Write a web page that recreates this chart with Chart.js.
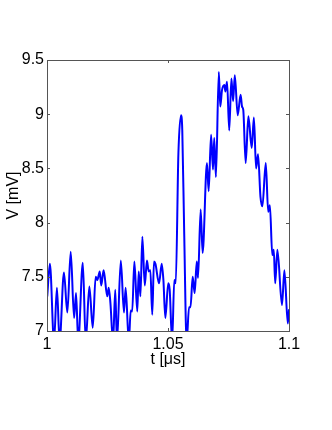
<!DOCTYPE html>
<html>
<head>
    <title>V vs t</title>
    <script src="https://cdn.jsdelivr.net/npm/chart.js"></script>
    <style>
        body {
            margin: 0;
            background-color: #ffffff;
        }
        #wrap {
            position: relative;
            width: 332px;
            height: 430px;
        }
    </style>
</head>
<body>
    <div id="wrap">
        <canvas id="traceChart" width="332" height="430"></canvas>
    </div>
    <script>
        // time axis in microseconds, voltage in mV (values under 7 fall off the axis)
        const timeUs = [
            1.0001, 1.0012, 1.0029, 1.0041, 1.0052, 1.0070, 1.0084, 1.0098, 1.0112, 1.0120,
            1.0129, 1.0148, 1.0160, 1.0175, 1.0189, 1.0201, 1.0208, 1.0218, 1.0224, 1.0234,
            1.0249, 1.0255, 1.0262, 1.0273, 1.0282, 1.0289, 1.0305, 1.0318, 1.0325, 1.0338,
            1.0346, 1.0352, 1.0361, 1.0373, 1.0379, 1.0386, 1.0394, 1.0404, 1.0413, 1.0420,
            1.0427, 1.0435, 1.0442, 1.0448, 1.0463, 1.0474, 1.0481, 1.0489, 1.0501, 1.0507,
            1.0517, 1.0526, 1.0532, 1.0543, 1.0554, 1.0559, 1.0567, 1.0577, 1.0587, 1.0593,
            1.0602, 1.0610, 1.0619, 1.0624, 1.0635, 1.0643, 1.0661, 1.0668, 1.0678, 1.0686,
            1.0691, 1.0698, 1.0710, 1.0716, 1.0723, 1.0733, 1.0737, 1.0744, 1.0753, 1.0762,
            1.0769, 1.0776, 1.0788, 1.0800, 1.0806, 1.0811, 1.0821, 1.0832, 1.0846, 1.0855,
            1.0864, 1.0872, 1.0882, 1.0890, 1.0904, 1.0914, 1.0921, 1.0931, 1.0937, 1.0943,
            1.0952, 1.0971, 1.0981, 1.0995, 1.1000
        ];
        const voltageMv = [
            7.32, 7.62, 6.90, 7.40, 6.90, 7.54, 7.17, 7.73, 7.12, 7.35,
            6.90, 7.63, 6.90, 7.41, 7.03, 7.50, 7.47, 7.55, 7.42, 7.56,
            7.32, 7.40, 7.26, 6.90, 7.38, 6.90, 7.65, 7.17, 7.40, 6.90,
            7.19, 7.18, 7.64, 7.18, 7.55, 7.32, 7.87, 7.42, 7.65, 7.55,
            7.56, 7.15, 7.64, 7.62, 7.44, 7.62, 7.47, 7.12, 7.44, 7.38,
            6.90, 7.47, 7.44, 8.64, 8.99, 8.85, 7.90, 6.90, 7.22, 7.22,
            7.50, 7.35, 7.64, 7.49, 8.12, 7.72, 8.55, 8.29, 8.81, 8.49,
            8.78, 8.42, 9.39, 9.07, 9.22, 9.27, 9.21, 9.30, 8.85, 9.33,
            9.12, 9.36, 8.99, 9.18, 9.07, 9.04, 8.55, 8.98, 8.69, 8.97,
            8.50, 8.63, 8.24, 8.15, 8.55, 8.10, 8.16, 7.70, 7.75, 7.44,
            7.75, 7.24, 7.56, 7.07, 7.20
        ];
        const xTicks = [1, 1.05, 1.1];
        const yTicks = [7, 7.5, 8, 8.5, 9, 9.5];

        const axisFont = { family: "'Liberation Sans', Arial, sans-serif", size: 16 };

        function tidy(v) {
            return String(Math.round(v * 100) / 100);
        }

        // box round the plot with short inward ticks on all four sides
        const boxPlugin = {
            id: 'box',
            afterDraw(chart) {
                const ctx = chart.ctx;
                const a = chart.chartArea;
                const xs = chart.scales.x;
                const ys = chart.scales.y;
                const len = 3;
                ctx.save();
                ctx.strokeStyle = '#555555';
                ctx.lineWidth = 1;
                ctx.strokeRect(Math.round(a.left) + 0.5, Math.round(a.top) + 0.5,
                    Math.round(a.right) - Math.round(a.left), Math.round(a.bottom) - Math.round(a.top));
                ctx.beginPath();
                xTicks.forEach(v => {
                    const px = Math.round(xs.getPixelForValue(v)) + 0.5;
                    ctx.moveTo(px, a.bottom);
                    ctx.lineTo(px, a.bottom - len);
                    ctx.moveTo(px, a.top);
                    ctx.lineTo(px, a.top + len);
                });
                yTicks.forEach(v => {
                    const py = Math.round(ys.getPixelForValue(v)) + 0.5;
                    ctx.moveTo(a.left, py);
                    ctx.lineTo(a.left + len, py);
                    ctx.moveTo(a.right, py);
                    ctx.lineTo(a.right - len, py);
                });
                ctx.stroke();
                ctx.restore();
            }
        };

        const points = timeUs.map((t, i) => ({ x: t, y: voltageMv[i] }));

        const ctx = document.getElementById('traceChart').getContext('2d');
        const traceChart = new Chart(ctx, {
            type: 'line',
            data: {
                datasets: [{
                    data: points,
                    borderColor: '#0000ff',
                    borderWidth: 2,
                    pointRadius: 0,
                    fill: false,
                    cubicInterpolationMode: 'monotone',
                    clip: 0
                }]
            },
            options: {
                responsive: false,
                animation: false,
                layout: {
                    padding: { top: 60, right: 43, bottom: 0, left: 0 }
                },
                plugins: {
                    legend: { display: false },
                    tooltip: { enabled: false }
                },
                scales: {
                    x: {
                        type: 'linear',
                        min: 1,
                        max: 1.1,
                        afterFit: s => { s.height = 99; },
                        afterBuildTicks: s => { s.ticks = xTicks.map(v => ({ value: v })); },
                        grid: { display: false, drawTicks: false },
                        border: { display: false },
                        ticks: {
                            color: '#000000',
                            font: axisFont,
                            padding: 4,
                            maxRotation: 0,
                            autoSkip: false,
                            callback: v => tidy(v)
                        },
                        title: {
                            display: true,
                            text: 't [μs]',
                            color: '#000000',
                            font: axisFont,
                            padding: { top: 0, bottom: 61 }
                        }
                    },
                    y: {
                        type: 'linear',
                        min: 7,
                        max: 9.5,
                        afterFit: s => { s.width = 47; },
                        afterBuildTicks: s => { s.ticks = yTicks.map(v => ({ value: v })); },
                        grid: { display: false, drawTicks: false },
                        border: { display: false },
                        ticks: {
                            color: '#000000',
                            font: axisFont,
                            padding: 3,
                            autoSkip: false,
                            callback: v => tidy(v)
                        },
                        title: {
                            display: true,
                            text: 'V [mV]',
                            color: '#000000',
                            font: axisFont,
                            padding: { top: 4, bottom: 0 }
                        }
                    }
                }
            },
            plugins: [boxPlugin]
        });
    </script>
</body>
</html>
